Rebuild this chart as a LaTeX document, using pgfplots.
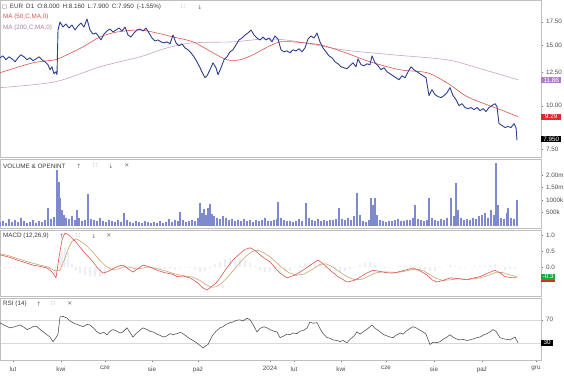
\documentclass[border=0pt]{standalone}
\usepackage{pgfplots}
\pgfplotsset{compat=1.18}
\usepackage{fontspec}
\setmainfont{Liberation Sans}
\newfontfamily\sym{DejaVu Sans}
\definecolor{pricec}{HTML}{2F3E8E}
\definecolor{ma50}{HTML}{D9544F}
\definecolor{ma200}{HTML}{C9A3C3}
\definecolor{purplebox}{HTML}{B07CC8}
\definecolor{redbox}{HTML}{E0282E}
\definecolor{greenbox}{HTML}{1FA83C}
\definecolor{volc}{HTML}{ADB3E3}
\definecolor{voledge}{HTML}{7F89CE}
\definecolor{macdc}{HTML}{D9544F}
\definecolor{sigc}{HTML}{C9A46E}
\definecolor{histc}{HTML}{E1E6F0}
\definecolor{rsic}{HTML}{4A4A4A}
\definecolor{txt}{HTML}{3A3A3A}
\newcommand{\sz}{\fontsize{6.3}{7}\selectfont}
\newcommand{\ic}{\sym\fontsize{6}{7}\selectfont}
\pgfplotsset{
  panel/.style={scale only axis, width=541pt, xmin=0, xmax=541,
    axis line style={draw=black!25, line width=0.8pt},
    ytick pos=right, yticklabel pos=right, tick align=outside,
    major tick length=2pt, tick style={black!55, line width=0.4pt},
    xtick=\empty, tick label style={font=\sz, text=black!70},
    yticklabel style={xshift=-0.5pt},
    clip mode=individual},
}
\begin{document}
\begin{tikzpicture}
\useasboundingbox (0pt,0pt) rectangle (564pt,-380pt);
% ---------------- price panel
\begin{axis}[panel, at={(0pt,0pt)}, anchor=north west, height=157pt, ymode=log, ymin=7.11, ymax=20.22,
  ytick={7.5,10,12.5,15,17.5}, yticklabels={7.50,10.00,12.50,15.00,17.50}]
\addplot[ma200, line width=0.6pt, smooth] coordinates {
(0,11.28)(55,11.73)(100,12.96)(140,13.85)(167,14.70)(193,15.20)(233,15.30)(265,15.60)(293,15.40)(343,14.51)(393,14.04)(447,13.58)(477,12.88)(518,11.89)};
\addplot[ma50, line width=0.6pt, smooth] coordinates {
(0,12.46)(33,13.31)(55,13.58)(67,14.04)(83,14.80)(100,15.81)(117,16.34)(140,16.56)(157,16.23)(173,15.81)(193,15.30)(213,14.22)(227,13.58)(240,13.58)(253,14.04)(262,14.51)(272,15.00)(280,15.30)(293,15.30)(320,15.00)(343,14.32)(370,13.40)(400,12.71)(427,12.46)(447,11.65)(467,10.63)(487,10.07)(500,9.75)(518,9.30)};
\addplot[pricec, line width=0.9pt, line join=round] coordinates {
(0,13.76)(3,13.94)(6,13.58)(9,13.85)(12,13.67)(15,13.40)(18,13.76)(21,14.04)(24,13.85)(27,13.58)(30,13.76)(33,13.49)(36,13.67)(39,13.85)(42,13.58)(45,13.40)(48,13.14)(50,12.71)(52,12.96)(54,12.37)(56,12.54)(57,12.29)
(58,16.56)(60,17.47)(63,16.89)(66,17.23)(69,16.78)(72,17.12)(75,16.56)(78,17.01)(81,17.35)(84,16.89)(87,17.82)(90,16.56)(93,16.12)(96,16.23)(99,15.81)(101,15.50)(104,16.12)(107,16.45)(110,16.67)(113,16.34)(116,16.56)(119,16.78)(122,16.45)(125,16.89)(128,16.02)(131,15.81)(134,16.23)(137,16.56)(140,16.67)(143,16.45)(146,16.78)(149,16.23)(152,15.70)(155,15.40)(158,15.50)(161,15.30)(164,15.20)(167,15.30)(170,15.10)(173,16.02)(176,15.20)(179,14.90)(182,15.10)(185,14.70)(188,14.51)(191,14.22)(194,13.85)(197,13.40)(200,12.88)(203,12.37)(205,12.05)(207,12.21)(210,12.71)(213,13.31)(216,12.88)(218,12.29)(221,12.88)(224,13.58)(227,13.85)(230,14.32)(233,14.51)(236,15.00)(239,15.50)(242,15.70)(245,16.02)(248,16.23)(251,16.56)(254,16.02)(257,15.70)(260,15.50)(263,15.81)(266,15.50)(269,15.70)(272,15.30)(275,15.91)(278,15.60)
(281,14.51)(284,14.32)(287,14.41)(290,14.22)(293,14.51)(296,14.41)(299,14.61)(302,14.32)(305,14.70)(308,15.60)(311,15.91)(314,15.70)(317,16.23)(320,15.30)(323,14.70)(326,14.32)(329,13.94)(332,13.76)(335,13.40)(338,13.22)(341,12.96)(344,12.88)(347,12.79)(350,13.05)(353,13.31)(356,12.96)(358,13.67)(361,13.14)(364,13.05)(367,13.22)(370,13.14)(372,13.94)(375,13.31)(378,13.05)(381,12.71)(384,12.88)(387,12.54)(390,12.37)(393,12.21)(396,12.05)(399,11.89)(402,12.21)(405,12.05)(408,12.54)(411,12.96)(414,12.71)(417,12.54)(420,12.37)(423,12.21)(426,12.05)
(429,10.70)(432,11.13)(435,10.77)(438,10.63)(441,10.56)(444,10.70)(447,10.91)(450,11.28)(453,10.70)(456,10.42)(459,10.01)(462,10.14)(465,9.88)(468,9.81)(471,9.88)(474,9.75)(477,9.88)(480,9.68)(483,9.81)(486,9.62)(489,9.88)(492,10.01)(495,10.14)(497,9.94)(499,8.88)(502,8.77)(505,8.65)(508,8.71)(511,8.65)(514,8.88)(516,8.65)(517,7.95)};
\node[fill=purplebox, text=white, font=\sz, inner sep=0.8pt, anchor=west, minimum width=20pt] at (axis cs:541,11.86) {11.86};
\node[fill=redbox, text=white, font=\sz, inner sep=0.8pt, anchor=west, minimum width=20pt] at (axis cs:541,9.29) {9.29};
\node[fill=black, text=white, font=\sz, inner sep=0.8pt, anchor=west, minimum width=20pt] at (axis cs:541,8.02) {7.950};
\end{axis}
% ---------------- volume panel
\begin{axis}[panel, at={(0pt,-159pt)}, anchor=north west, height=69pt, ymin=-110, ymax=2640,
  ytick={500,1000,1500,2000}, yticklabels={500k,1000k,1.50m,2.00m}]
\addplot[ybar, bar width=0.9pt, fill=volc, draw=voledge, line width=0.25pt] coordinates {
(0,120)(3,180)(6,90)(9,250)(12,140)(15,200)(18,110)(21,300)(24,150)(27,90)(30,130)(33,220)(36,100)(39,160)(42,120)(45,200)(48,680)(51,260)(54,320)(57,2200)(59,1700)(60,1080)(62,600)(64,420)(66,300)(69,250)(72,380)(75,200)(77,600)(79,300)(82,180)(85,220)(88,1240)(91,260)(94,200)(97,150)(100,280)(103,180)(106,120)(109,220)(112,160)(115,140)(118,200)(121,120)(124,480)(127,220)(130,140)(133,100)(136,180)(139,120)(142,90)(145,160)(148,110)(151,80)(154,130)(157,100)(160,150)(163,90)(166,120)(169,250)(172,140)(175,200)(178,160)(180,520)(183,200)(186,140)(189,180)(192,220)(195,160)(198,300)(200,880)(202,500)(204,650)(206,400)(208,700)(210,860)(212,450)(214,350)(217,300)(220,250)(223,350)(226,300)(229,200)(232,250)(235,180)(238,220)(241,160)(244,250)(247,180)(250,200)(253,140)(256,220)(259,160)(262,200)(265,300)(268,180)(271,160)(274,200)(277,240)(278,920)(281,300)(284,200)(287,150)(290,180)(293,120)(296,160)(299,250)(302,180)(306,880)(309,300)(312,200)(315,180)(318,250)(321,150)(324,200)(327,180)(330,220)(333,200)(336,250)(339,680)(342,250)(345,200)(348,300)(351,220)(354,350)(357,1280)(360,400)(363,150)(366,120)(369,200)(371,1080)(373,800)(375,1080)(377,400)(380,200)(383,150)(386,120)(389,180)(392,150)(395,200)(398,250)(401,150)(404,180)(407,220)(410,200)(413,300)(415,800)(418,250)(421,200)(424,150)(427,200)(429,1080)(432,300)(435,200)(438,150)(441,250)(444,200)(447,300)(451,1080)(454,350)(456,1680)(458,600)(461,300)(464,200)(467,250)(470,200)(473,300)(476,250)(479,350)(482,400)(485,500)(488,300)(491,600)(494,400)(496,2480)(498,800)(501,300)(504,250)(507,500)(508,700)(511,300)(514,250)(517,1000)};
\end{axis}
% ---------------- MACD panel
\begin{axis}[panel, at={(0pt,-230pt)}, anchor=north west, height=66pt, ymin=-0.906, ymax=1.156,
  ytick={0,0.5,1}, yticklabels={0.0,0.5,1.0}]
\addplot[ybar, bar width=1.2pt, fill=histc, draw=none] coordinates {
(0,-0.04)(5,-0.04)(10,-0.04)(15,-0.03)(20,-0.03)(25,-0.02)(30,-0.02)(35,-0.03)(40,-0.04)(45,-0.04)(50,-0.08)(55,-0.2)(58,-0.05)(60,0.3)(62,0.5)(65,0.6)(68,0.47)(72,0.1)(76,-0.1)(80,-0.2)(85,-0.26)(90,-0.3)(95,-0.3)(100,-0.3)(105,-0.25)(110,-0.1)(115,0.02)(120,0.08)(125,0.05)(130,-0.05)(135,-0.1)(140,0.05)(145,0.07)(150,0.0)(155,-0.06)(160,-0.06)(165,-0.06)(170,-0.05)(175,-0.08)(180,-0.02)(185,-0.01)(190,-0.03)(195,-0.08)(200,-0.15)(205,-0.13)(210,-0.05)(215,0.08)(220,0.15)(225,0.25)(230,0.28)(235,0.28)(240,0.28)(245,0.22)(250,0.14)(255,0.03)(260,-0.1)(265,-0.16)(270,-0.16)(275,-0.15)(280,-0.18)(285,-0.17)(290,-0.12)(295,-0.02)(300,0.06)(305,0.11)(310,0.12)(315,0.11)(320,0.1)(325,-0.03)(330,-0.08)(335,-0.12)(340,-0.16)(345,-0.12)(350,-0.08)(355,-0.02)(360,0.06)(365,0.13)(370,0.15)(375,0.06)(380,0.0)(385,-0.03)(390,-0.03)(395,0.0)(400,0.03)(405,0.05)(410,0.05)(415,0.03)(420,-0.05)(425,-0.11)(430,-0.14)(435,-0.12)(440,-0.03)(445,0.0)(450,0.06)(455,0.02)(460,-0.02)(465,-0.02)(470,0.0)(475,0.03)(480,0.03)(485,0.05)(490,0.07)(495,0.08)(500,-0.01)(505,-0.1)(510,-0.07)(515,-0.05)};
\addplot[sigc, line width=0.6pt] coordinates {
(0,0.42)(10,0.34)(20,0.24)(30,0.14)(40,0.06)(48,0.00)(55,-0.12)(60,-0.10)(64,0.20)(68,0.55)(72,0.80)(76,0.88)(80,0.82)(86,0.68)(93,0.46)(100,0.20)(106,0.02)(112,-0.08)(118,-0.06)(124,0.00)(130,0.00)(136,-0.06)(142,-0.04)(148,0.00)(156,-0.04)(165,-0.12)(175,-0.22)(185,-0.28)(193,-0.32)(200,-0.42)(206,-0.55)(211,-0.63)(216,-0.62)(221,-0.52)(227,-0.34)(234,-0.08)(240,0.14)(246,0.34)(252,0.48)(258,0.52)(264,0.44)(270,0.32)(276,0.15)(282,-0.02)(289,-0.18)(296,-0.26)(304,-0.22)(312,-0.08)(320,0.08)(326,0.10)(333,0.00)(340,-0.16)(348,-0.32)(355,-0.40)(362,-0.38)(369,-0.28)(376,-0.18)(383,-0.15)(390,-0.16)(398,-0.17)(405,-0.13)(412,-0.08)(418,-0.07)(424,-0.13)(430,-0.24)(436,-0.35)(443,-0.42)(450,-0.40)(458,-0.37)(466,-0.38)(474,-0.37)(481,-0.33)(488,-0.26)(495,-0.18)(502,-0.17)(508,-0.23)(514,-0.28)(517,-0.30)};
\addplot[macdc, line width=0.6pt] coordinates {
(0,0.38)(10,0.30)(17,0.22)(25,0.14)(33,0.06)(40,0.02)(47,-0.03)(52,-0.15)(56,-0.34)(59,0.30)(62,0.85)(65,1.06)(68,1.02)(72,0.90)(76,0.78)(80,0.62)(86,0.40)(93,0.16)(98,-0.05)(103,-0.19)(108,-0.14)(113,-0.05)(118,0.02)(123,0.06)(128,-0.05)(133,-0.16)(138,-0.05)(143,0.06)(150,0.00)(157,-0.10)(165,-0.18)(172,-0.22)(177,-0.30)(183,-0.28)(190,-0.34)(197,-0.48)(203,-0.65)(207,-0.72)(212,-0.60)(216,-0.50)(220,-0.34)(226,-0.06)(233,0.22)(240,0.42)(245,0.55)(250,0.60)(255,0.52)(260,0.38)(265,0.26)(270,0.16)(275,-0.02)(280,-0.19)(287,-0.34)(295,-0.25)(303,-0.10)(310,0.05)(318,0.22)(324,0.08)(330,-0.10)(338,-0.30)(347,-0.47)(354,-0.42)(360,-0.32)(366,-0.20)(373,-0.10)(380,-0.14)(387,-0.18)(393,-0.19)(400,-0.14)(407,-0.08)(413,-0.03)(420,-0.12)(427,-0.25)(432,-0.40)(437,-0.47)(443,-0.42)(450,-0.34)(458,-0.36)(467,-0.40)(474,-0.34)(480,-0.30)(487,-0.20)(495,-0.10)(500,-0.18)(505,-0.30)(511,-0.33)(517,-0.34)};
\node[fill=redbox, inner sep=0pt, anchor=north west, minimum width=14pt, minimum height=4pt] at (axis cs:541,-0.35) {};
\node[fill=greenbox, text=white, font=\sz, inner sep=0.8pt, anchor=west, minimum width=14pt] at (axis cs:541,-0.30) {-0.3};
\end{axis}
% ---------------- RSI panel
\begin{axis}[panel, at={(0pt,-298pt)}, anchor=north west, height=62pt, ymin=0, ymax=108,
  ytick={30,70}, yticklabels={,70}, ymajorgrids, grid style={black!15, line width=0.4pt},
  xtick={13,61,105,152,198,270,294,341,386,434,482,536},
  xticklabels={lut,kwi,cze,sie,paź,2024,lut,kwi,cze,sie,paź,gru},
  xtick pos=bottom, xticklabel style={yshift=-1pt}]
\addplot[rsic, line width=0.55pt] coordinates {
(0,64.8)(5,60)(10,56)(15,58)(20,61)(24,57)(27,53)(31,56)(34,59)(37,58)(41,52)(44,48)(47,44)(50,40)(53,32)(56,39)(58,45)(60,75)(63,76)(67,73)(70,68)(73,65)(77,62)(80,60)(83,58)(87,62)(90,61)(94,55)(97,49)(100,46)(104,48)(107,44)(110,50)(113,53)(117,50)(120,47)(123,49)(127,56)(130,48)(133,40)(136,46)(140,52)(143,56)(147,53)(150,50)(153,49)(157,45)(160,43)(163,40)(167,42)(170,46)(173,44)(177,46)(180,48)(182,47)(186,42)(189,38)(192,35)(195,32)(198,28)(201,24)(203,21)(206,25)(208,27)(211,38)(213,44)(216,50)(220,56)(223,58)(226,62)(230,65)(233,66)(236,69)(240,70)(243,68)(247,73)(250,70)(253,62)(257,49)(260,55)(264,58)(267,56)(270,53)(274,50)(277,49)(280,39)(284,42)(287,45)(290,44)(293,47)(297,46)(300,50)(304,52)(307,56)(310,66)(313,64)(317,65)(320,55)(323,46)(327,39)(330,38)(333,35)(337,34)(340,32)(343,34)(347,30)(350,36)(354,42)(357,49)(360,45)(364,50)(368,55)(372,61)(375,55)(378,52)(380,49)(384,44)(387,42)(390,40)(393,39)(396,43)(400,47)(403,45)(406,50)(410,55)(413,58)(416,56)(420,52)(423,49)(426,45)(430,27)(433,31)(437,30)(440,32)(443,36)(447,40)(450,44)(453,40)(456,37)(460,35)(463,36)(467,34)(470,35)(474,37)(477,39)(480,40)(484,44)(487,46)(490,49)(493,53)(496,50)(500,39)(503,37)(507,36)(510,35)(513,38)(515,40)(518,30)};
\node[fill=black, text=white, font=\sz, inner sep=0.8pt, anchor=west, minimum width=12pt] at (axis cs:541,30) {30};
\end{axis}
% ---------------- panel captions
\begin{scope}[x=1pt,y=1pt]
\node[anchor=west, font=\sz, text=txt, inner sep=0pt] at (2,-7) {{\sym\fontsize{5}{6}\selectfont □}\hspace{3pt}EUR\hspace{3pt}D1\hspace{3pt}O:8.000\hspace{3pt}H:8.160\hspace{3pt}L:7.900\hspace{3pt}C:7.950\hspace{3pt}(-1.55\%)};
\node[anchor=center, font=\ic, text=black!55, inner sep=0pt] at (183,-7) {∷};
\node[anchor=center, font=\ic, text=black!55, inner sep=0pt] at (200,-7) {↓};
\node[anchor=west, font=\sz, text=ma50, inner sep=0pt] at (3,-17) {MA (50,C,MA,0)};
\node[anchor=west, font=\sz, text=ma200!80!black, inner sep=0pt] at (3,-28) {MA (200,C,MA,0)};
\node[anchor=west, font=\sz, text=txt, inner sep=0pt] at (3,-166) {VOLUME \& OPENINT};
\node[anchor=center, font=\ic, text=black!55, inner sep=0pt] at (79,-166) {↑};
\node[anchor=center, font=\ic, text=black!55, inner sep=0pt] at (95,-166) {∷};
\node[anchor=center, font=\ic, text=black!55, inner sep=0pt] at (111,-166) {↓};
\node[anchor=center, font=\ic, text=black!55, inner sep=0pt] at (127,-166) {✕};
\node[anchor=west, font=\sz, text=txt, inner sep=0pt] at (3,-236) {MACD (12,26,9)};
\node[anchor=center, font=\ic, text=black!55, inner sep=0pt] at (62,-236) {↑};
\node[anchor=center, font=\ic, text=black!55, inner sep=0pt] at (78,-236) {∷};
\node[anchor=center, font=\ic, text=black!55, inner sep=0pt] at (94,-236) {↓};
\node[anchor=center, font=\ic, text=black!55, inner sep=0pt] at (109,-236) {✕};
\node[anchor=west, font=\sz, text=txt, inner sep=0pt] at (3,-304) {RSI (14)};
\node[anchor=center, font=\ic, text=black!55, inner sep=0pt] at (39,-304) {↑};
\node[anchor=center, font=\ic, text=black!55, inner sep=0pt] at (53,-304) {∷};
\node[anchor=center, font=\ic, text=black!55, inner sep=0pt] at (70,-304) {✕};
\end{scope}
\end{tikzpicture}
\end{document}
